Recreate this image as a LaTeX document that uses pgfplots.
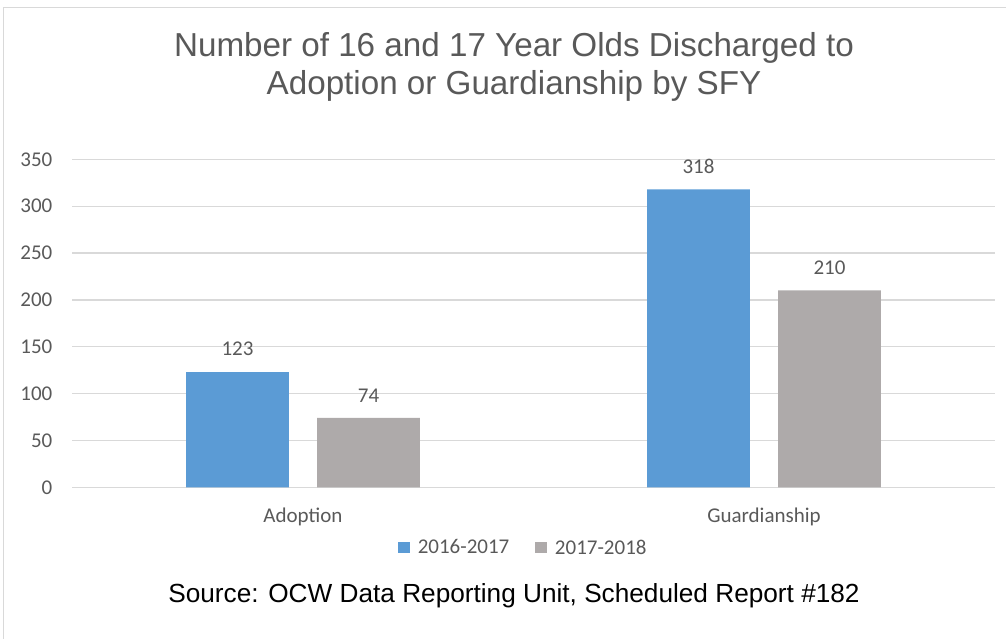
\documentclass[border=0pt]{standalone}
\usepackage{fontspec}
\setmainfont{Liberation Sans}
\newfontfamily\carlito{Carlito}
\usepackage{pgfplots}
\pgfplotsset{compat=1.18}
\definecolor{barBlue}{RGB}{91,155,213}
\definecolor{barGray}{RGB}{174,170,170}
\definecolor{txtGray}{RGB}{89,89,89}
\definecolor{lineGray}{RGB}{217,217,217}

\pgfplotsset{
  sqlegend/.style={legend image code/.code={
    \fill[##1] (0pt,-5.8pt) rectangle (11.6pt,5.8pt);}},
}

\begin{document}
\begin{tikzpicture}
\useasboundingbox (0pt,0pt) rectangle (1006pt,639pt);
\draw[lineGray, line width=1.3pt] (3.3pt,0pt) -- (3.3pt,631.7pt) -- (1006pt,631.7pt);

\node[anchor=base, text=txtGray, inner sep=0pt, font=\fontsize{33.2}{39}\selectfont]
  at (514pt,582.3pt) {Number of 16 and 17 Year Olds Discharged to};
\node[anchor=base, text=txtGray, inner sep=0pt, font=\fontsize{33.2}{39}\selectfont]
  at (514pt,544pt) {Adoption or Guardianship by SFY};

\coordinate (O) at (72.5pt,151.7pt);
\begin{axis}[
  at={(O)}, anchor=south west,
  scale only axis,
  width=922pt, height=328pt,
  ybar,
  xmin=-0.5, xmax=1.5,
  ymin=0, ymax=350,
  xtick={0,1},
  xticklabels={Adoption, Guardianship},
  ytick={0,50,...,350},
  axis line style={draw=none},
  major tick length=0pt,
  ymajorgrids=true,
  grid style={draw=lineGray, line width=1.3pt},
  /pgf/number format/assume math mode=true,
  yticklabel style={font=\carlito\fontsize{21}{25}\selectfont, text=txtGray,
                    anchor=east, inner sep=0pt, xshift=-20pt},
  xticklabel style={font=\carlito\fontsize{21}{25}\selectfont, text=txtGray,
                    anchor=base, inner sep=0pt, yshift=-35.4pt},
  nodes near coords,
  nodes near coords style={font=\carlito\fontsize{21}{25}\selectfont,
                           text=txtGray, inner sep=0pt, yshift=15.7pt},
  bar width=102.6pt,
  clip=false,
  legend style={at={(0.489,-0.184)}, anchor=center, draw=none, fill=none,
                legend columns=-1, inner sep=0pt,
                font=\carlito\fontsize{21}{25}\selectfont, text=txtGray,
                /tikz/every odd column/.append style={column sep=6pt},
                /tikz/every even column/.append style={column sep=24pt}},
]
\addplot[fill=barBlue, draw=none, bar shift=-65.5pt, sqlegend] coordinates {
  (0,123)
  (1,318)
};
\addlegendentry{2016-2017}

\addplot[fill=barGray, draw=none, bar shift=65.5pt, sqlegend] coordinates {
  (0,74)
  (1,210)
};
\addlegendentry{2017-2018}
\end{axis}

\node[anchor=base, text=black, inner sep=0pt, font=\fontsize{26.2}{31}\selectfont]
  at (514pt,36pt) {Source: OCW Data Reporting Unit, Scheduled Report \#182};
\end{tikzpicture}
\end{document}
